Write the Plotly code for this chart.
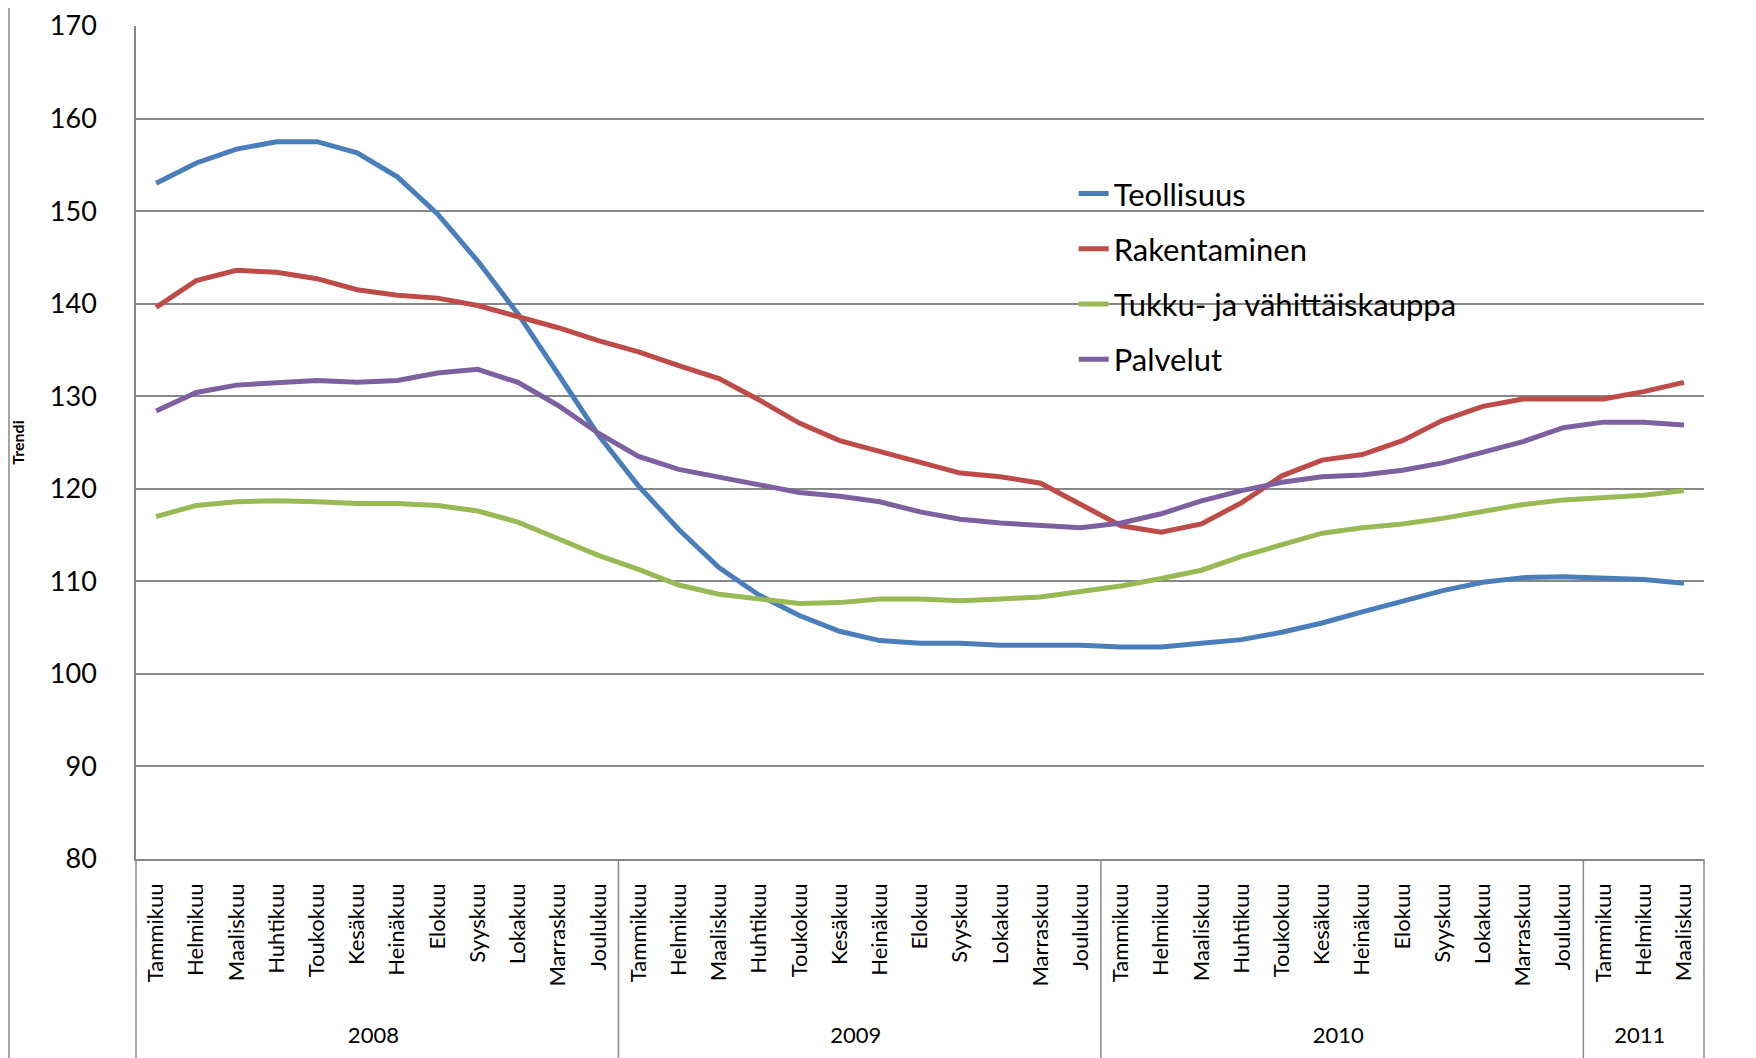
import plotly.graph_objects as go

month_names = ["Tammikuu", "Helmikuu", "Maaliskuu", "Huhtikuu", "Toukokuu", "Kesäkuu",
               "Heinäkuu", "Elokuu", "Syyskuu", "Lokakuu", "Marraskuu", "Joulukuu"]
months = month_names * 3 + month_names[:3]
years = ["2008"] * 12 + ["2009"] * 12 + ["2010"] * 12 + ["2011"] * 3

teollisuus = [153.0, 155.2, 156.7, 157.5, 157.5, 156.3, 153.7, 149.7, 144.6, 138.9, 132.4, 125.8,
              120.3, 115.6, 111.5, 108.5, 106.3, 104.6, 103.6, 103.3, 103.3, 103.1, 103.1, 103.1,
              102.9, 102.9, 103.3, 103.7, 104.5, 105.5, 106.7, 107.9, 109.0, 109.9, 110.4, 110.5,
              110.4, 110.2, 109.8]
rakentaminen = [139.6, 142.5, 143.6, 143.4, 142.7, 141.5, 140.9, 140.6, 139.8, 138.6, 137.4, 136.0,
                134.8, 133.3, 131.9, 129.6, 127.1, 125.2, 124.0, 122.8, 121.7, 121.3, 120.6, 118.3,
                116.0, 115.3, 116.2, 118.5, 121.4, 123.1, 123.7, 125.2, 127.4, 128.9, 129.7, 129.7,
                129.7, 130.5, 131.5]
tukku = [117.0, 118.2, 118.6, 118.7, 118.6, 118.4, 118.4, 118.2, 117.6, 116.4, 114.6, 112.8,
         111.3, 109.6, 108.6, 108.1, 107.6, 107.7, 108.1, 108.1, 107.9, 108.1, 108.3, 108.9,
         109.5, 110.3, 111.2, 112.7, 113.9, 115.2, 115.8, 116.2, 116.8, 117.6, 118.3, 118.8,
         119.1, 119.3, 119.8]
palvelut = [128.4, 130.4, 131.2, 131.5, 131.7, 131.5, 131.7, 132.5, 132.9, 131.5, 129.0, 126.0,
            123.5, 122.1, 121.3, 120.4, 119.6, 119.2, 118.6, 117.5, 116.7, 116.3, 116.0, 115.8,
            116.3, 117.3, 118.7, 119.8, 120.7, 121.3, 121.5, 122.0, 122.8, 123.9, 125.1, 126.6,
            127.2, 127.2, 126.9]

series = [
    ("Teollisuus", teollisuus, "#4A7EBB"),
    ("Rakentaminen", rakentaminen, "#BE4B48"),
    ("Tukku- ja vähittäiskauppa", tukku, "#98B954"),
    ("Palvelut", palvelut, "#7D60A0"),
]

FONT = "Lato, 'Open Sans', sans-serif"
GRID = "#878787"
N = len(months)

# outer-level labels pushed one line lower, as in the original category axis
year_labels = ["<br>" + y for y in years]

fig = go.Figure()
for name, vals, color in series:
    fig.add_trace(go.Scatter(
        x=[year_labels, months], y=vals, name=name, mode="lines",
        line=dict(color=color, width=5), legendgroup=name,
    ))

fig.update_layout(
    width=1748, height=1050,
    margin=dict(l=128, r=52, t=18, b=199),
    paper_bgcolor="white", plot_bgcolor="white",
    font=dict(family=FONT, color="black"),
    showlegend=True,
    legend=dict(
        x=0.598, y=0.831, xanchor="left", yanchor="top",
        font=dict(size=31, family=FONT, color="black"),
        bgcolor="rgba(0,0,0,0)", borderwidth=0,
        traceorder="grouped", tracegroupgap=12,
    ),
)

fig.update_yaxes(
    range=[80, 170], dtick=10, tick0=80,
    automargin=False,
    showgrid=True, gridcolor=GRID, gridwidth=1.5,
    showline=True, linecolor=GRID, linewidth=1.5,
    zeroline=False, ticks="",
    ticklabelstandoff=32,
    ticklabeloverflow="allow",
    tickfont=dict(size=27, family=FONT, color="black"),
    title=dict(text="<b>Trendi</b>", font=dict(size=16, family=FONT, color="black"), standoff=24),
)

fig.update_xaxes(
    type="multicategory",
    range=[-0.5, N - 0.5],
    automargin=False,
    showgrid=False,
    showline=True, linecolor=GRID, linewidth=1.5,
    showdividers=False,
    tickangle=-90, ticks="",
    ticklabelstandoff=14,
    tickfont=dict(size=22, family=FONT, color="black"),
)

# year-group dividers below the category axis (at group boundaries, incl. both ends)
bounds = [0]
for i in range(1, N):
    if years[i] != years[i - 1]:
        bounds.append(i)
bounds.append(N)
for b in bounds:
    xp = b / N
    fig.add_shape(type="line", xref="paper", yref="paper",
                  x0=xp, x1=xp, y0=0, y1=-0.25,
                  line=dict(color=GRID, width=1.5))

# outer chart frame (left and right edges)
for xp in (-0.0810, 1.0305):
    fig.add_shape(type="line", xref="paper", yref="paper",
                  x0=xp, x1=xp, y0=-0.25, y1=1.03,
                  line=dict(color=GRID, width=1.5))

fig.write_html("out.html")
